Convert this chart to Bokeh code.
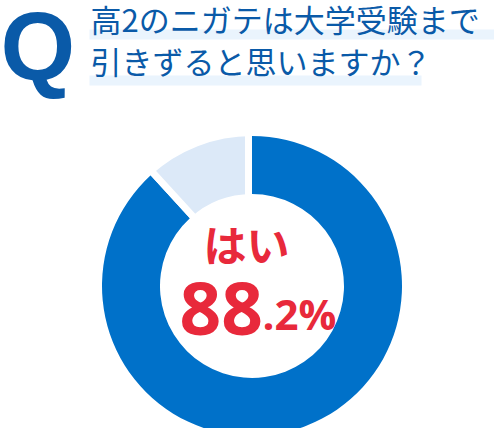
import math
from bokeh.plotting import figure
from bokeh.models import Range1d
from bokeh.core.properties import value
from bokeh.embed import file_html
from bokeh.resources import INLINE

# ---- data ----
categories = ["はい", "いいえ"]
shares = [88.2, 11.8]
slice_colors = ["#0071c9", "#dce9f8"]
title_lines = ["高2のニガテは大学受験まで", "引きずると思いますか？"]
answer_label = "はい"
answer_main = "88"
answer_frac = ".2%"

W, H = 494, 428
p = figure(width=W, height=H, output_backend="svg", toolbar_location=None,
           x_range=Range1d(0, W), y_range=Range1d(0, H), min_border=0)
p.outline_line_color = None
p.xaxis.visible = False
p.yaxis.visible = False
p.grid.visible = False

def sy(y):  # picture y (from top) -> data y
    return H - y

blue = "#0a5aa8"
red = "#e8293b"

# ---- title ----
p.quad(left=[89, 89], right=[502, 421], bottom=[sy(39), sy(85)], top=[sy(29), sy(75)],
       fill_color="#eaf4fd", line_color=None)
p.text(x=[90, 90], y=[sy(40.5), sy(82.5)], text=title_lines,
       text_font=value("Noto Sans CJK JP"), text_font_size="31px",
       text_color=blue)

# ---- donut ----
cx, cy = 251.5, sy(285.5)
r_out, r_in = 150, 92
start = 90.0
bounds = []
for s, c in zip(shares, slice_colors):
    sweep = s / sum(shares) * 360.0
    end = start - sweep
    p.annular_wedge(x=[cx], y=[cy], inner_radius=r_in, outer_radius=r_out,
                    start_angle=math.radians(start), end_angle=math.radians(end),
                    direction="clock", fill_color=c, line_color=None)
    bounds.append((start, end))
    start = end

# white separators, on the side of the small slice
gap = 7
ls, le = bounds[1]
xs0, ys0, xs1, ys1 = [], [], [], []
for ang, side in [(ls, "cw"), (le + 360, "ccw")]:
    t = math.radians(ang)
    nx, ny = (math.sin(t), -math.cos(t)) if side == "cw" else (-math.sin(t), math.cos(t))
    ox, oy = nx * gap / 2, ny * gap / 2
    xs0.append(cx + (r_in - 3) * math.cos(t) + ox)
    ys0.append(cy + (r_in - 3) * math.sin(t) + oy)
    xs1.append(cx + (r_out + 3) * math.cos(t) + ox)
    ys1.append(cy + (r_out + 3) * math.sin(t) + oy)
p.segment(x0=xs0, y0=ys0, x1=xs1, y1=ys1, line_color="white", line_width=gap)

# ---- center label ----
p.text(x=[203], y=[sy(273)], text=[answer_label], text_font=value("Noto Sans CJK JP"),
       text_font_size="43px", text_font_style="bold", text_color=red)
p.text(x=[179], y=[sy(334)], text=[answer_main], text_font=value("Open Sans"),
       text_font_size="73px", text_font_style="bold", text_color=red)
p.text(x=[262], y=[sy(341)], text=[answer_frac], text_font=value("Open Sans"),
       text_font_size="42px", text_font_style="bold", text_color=red)

# ---- Q mark ----
p.text(x=[0], y=[sy(99)], text=["Q"], text_font=value("Liberation Sans"),
       text_font_size="96px", text_font_style="bold", text_color=blue)

open("out.html", "w").write(file_html(p, INLINE))
